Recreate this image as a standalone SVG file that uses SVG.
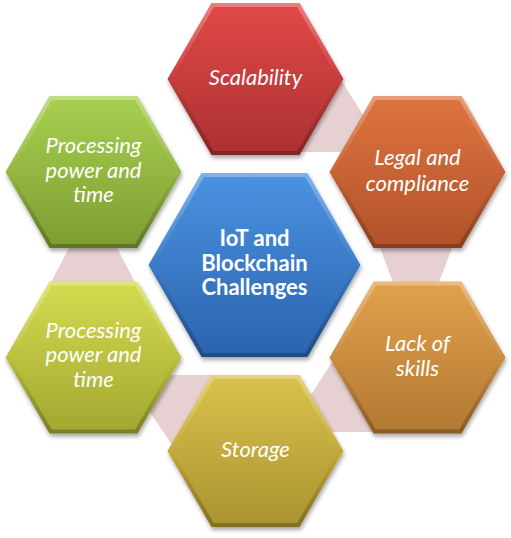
<svg xmlns="http://www.w3.org/2000/svg" width="511" height="538" viewBox="0 0 511 538">
<defs>
<filter id="sh" x="-20%" y="-20%" width="140%" height="140%">
<feDropShadow dx="1" dy="3" stdDeviation="2" flood-color="#000" flood-opacity="0.35"/>
</filter>
<linearGradient id="bev" x1="0" y1="0" x2="0" y2="1">
<stop offset="0" stop-color="#fff" stop-opacity="0.3"/>
<stop offset="0.5" stop-color="#fff" stop-opacity="0"/>
<stop offset="0.5" stop-color="#000" stop-opacity="0"/>
<stop offset="1" stop-color="#000" stop-opacity="0.25"/>
</linearGradient>
<linearGradient id="gRed" x1="0" y1="0" x2="0" y2="1"><stop offset="0" stop-color="#e04848"/><stop offset="1" stop-color="#ad3131"/></linearGradient>
<linearGradient id="gOra" x1="0" y1="0" x2="0" y2="1"><stop offset="0" stop-color="#de743f"/><stop offset="1" stop-color="#b2522a"/></linearGradient>
<linearGradient id="gAmb" x1="0" y1="0" x2="0" y2="1"><stop offset="0" stop-color="#e0a04c"/><stop offset="1" stop-color="#b47a33"/></linearGradient>
<linearGradient id="gGld" x1="0" y1="0" x2="0" y2="1"><stop offset="0" stop-color="#dac04c"/><stop offset="1" stop-color="#ab9431"/></linearGradient>
<linearGradient id="gLim" x1="0" y1="0" x2="0" y2="1"><stop offset="0" stop-color="#d4da4e"/><stop offset="1" stop-color="#a3a831"/></linearGradient>
<linearGradient id="gGrn" x1="0" y1="0" x2="0" y2="1"><stop offset="0" stop-color="#a7cf50"/><stop offset="1" stop-color="#7e9e33"/></linearGradient>
<linearGradient id="gBlu" x1="0" y1="0" x2="0" y2="1"><stop offset="0" stop-color="#4b92e0"/><stop offset="1" stop-color="#2b64ae"/></linearGradient>
<polygon id="ho" points="-88,0 -44,-76 44,-76 88,0 44,76 -44,76"/>
<polygon id="hi" points="-83.4,0 -41.7,-72 41.7,-72 83.4,0 41.7,72 -41.7,72"/>
<polygon id="bo" points="-106,0 -53,-92 53,-92 106,0 53,92 -53,92"/>
<polygon id="bi" points="-101.4,0 -50.7,-88 50.7,-88 101.4,0 50.7,88 -50.7,88"/>
</defs>
<style>
.lbl{font-family:Lato,"Liberation Sans",sans-serif;font-style:italic;font-size:22px;fill:#fff;text-anchor:middle}
.ctr{font-family:Lato,"Liberation Sans",sans-serif;font-weight:bold;font-size:22px;fill:#fff;text-anchor:middle}
.con{fill:#e7d0d1}
</style>
<g id="connectors">
<polygon class="con" points="336,72 372,129 360,152 295,152"/>
<polygon class="con" points="377,240 455,240 436,290 396,290"/>
<polygon class="con" points="340,350 303,407 320,432 380,432"/>
<polygon class="con" points="160,375 225,375 182,460 140,397"/>
<polygon class="con" points="47,290 139,290 113,240 73,240"/>
</g>
<g id="scalability" transform="translate(255.5,79)">
<use href="#ho" fill="url(#gRed)" filter="url(#sh)"/><use href="#ho" fill="url(#bev)"/><use href="#hi" fill="url(#gRed)"/>
<text class="lbl" x="0" y="6">Scalability</text>
</g>
<g id="legal" transform="translate(417.5,172)">
<use href="#ho" fill="url(#gOra)" filter="url(#sh)"/><use href="#ho" fill="url(#bev)"/><use href="#hi" fill="url(#gOra)"/>
<text class="lbl" x="0" y="-7">Legal and</text>
<text class="lbl" x="0" y="18.5">compliance</text>
</g>
<g id="skills" transform="translate(417.5,357.5)">
<use href="#ho" fill="url(#gAmb)" filter="url(#sh)"/><use href="#ho" fill="url(#bev)"/><use href="#hi" fill="url(#gAmb)"/>
<text class="lbl" x="0" y="-7">Lack of</text>
<text class="lbl" x="0" y="18.5">skills</text>
</g>
<g id="storage" transform="translate(255.5,451)">
<use href="#ho" fill="url(#gGld)" filter="url(#sh)"/><use href="#ho" fill="url(#bev)"/><use href="#hi" fill="url(#gGld)"/>
<text class="lbl" x="0" y="6">Storage</text>
</g>
<g id="processing2" transform="translate(93.5,357.5)">
<use href="#ho" fill="url(#gLim)" filter="url(#sh)"/><use href="#ho" fill="url(#bev)"/><use href="#hi" fill="url(#gLim)"/>
<text class="lbl" x="0" y="-20">Processing</text>
<text class="lbl" x="0" y="4.5">power and</text>
<text class="lbl" x="0" y="29">time</text>
</g>
<g id="processing1" transform="translate(93.5,172)">
<use href="#ho" fill="url(#gGrn)" filter="url(#sh)"/><use href="#ho" fill="url(#bev)"/><use href="#hi" fill="url(#gGrn)"/>
<text class="lbl" x="0" y="-19">Processing</text>
<text class="lbl" x="0" y="5.5">power and</text>
<text class="lbl" x="0" y="30">time</text>
</g>
<g id="center" transform="translate(254.5,265)">
<use href="#bo" fill="url(#gBlu)" filter="url(#sh)"/><use href="#bo" fill="url(#bev)"/><use href="#bi" fill="url(#gBlu)"/>
<text class="ctr" x="0" y="-19">IoT and</text>
<text class="ctr" x="0" y="5.5">Blockchain</text>
<text class="ctr" x="0" y="30">Challenges</text>
</g>
</svg>
